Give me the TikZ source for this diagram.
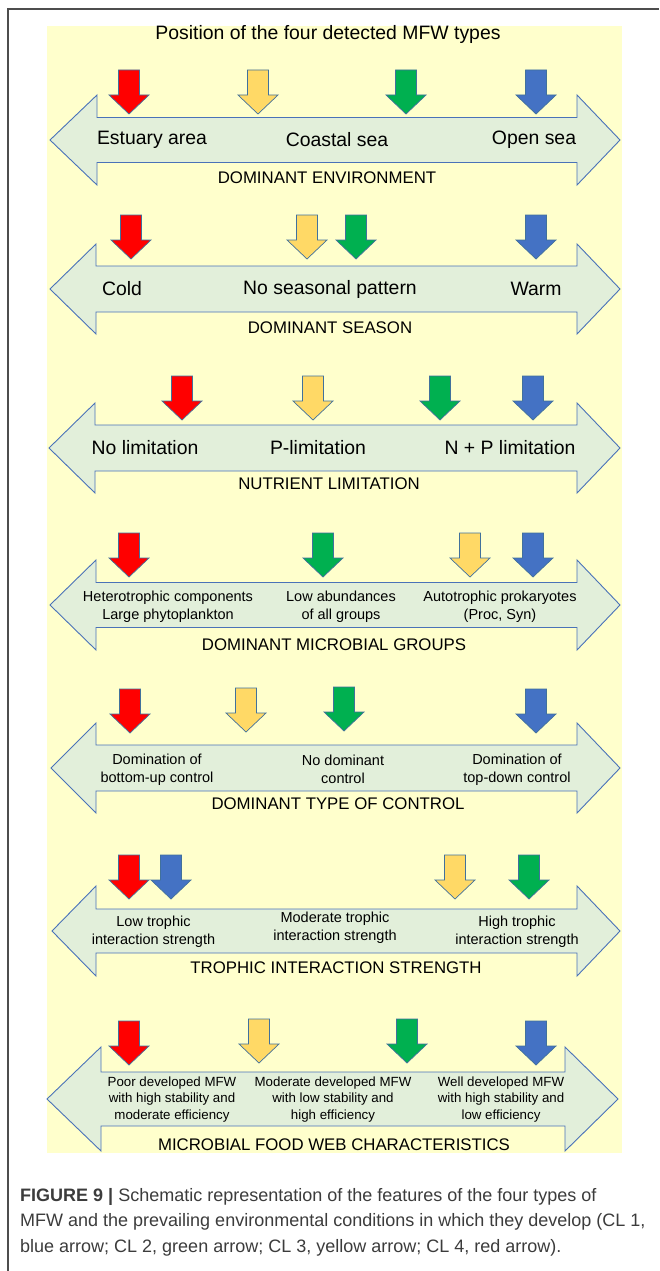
\documentclass[tikz,border=0pt]{standalone}
\usepackage{fontspec}
\setmainfont{Liberation Sans}
\usepackage{xcolor}
\definecolor{bgyellow}{HTML}{FFFFCC}
\definecolor{bandfill}{HTML}{E2EFDA}
\definecolor{bandline}{HTML}{4A72B8}
\definecolor{mfwred}{HTML}{FF0000}
\definecolor{mfwyellow}{HTML}{FFD966}
\definecolor{mfwgreen}{HTML}{00B050}
\definecolor{mfwblue}{HTML}{4472C4}
\definecolor{arrowline}{HTML}{41719C}
\definecolor{framegray}{HTML}{4D4D4D}
\definecolor{captext}{HTML}{3C3C3C}

\begin{document}
\begin{tikzpicture}[x=1pt,y=-1pt,
	bigarrow/.style={fill=bandfill,draw=bandline,line width=0.9pt},
	typearrow/.style={draw=arrowline,line width=0.7pt},
	biglabel/.style={font=\fontsize{19.4}{22}\selectfont},
	axislabel/.style={font=\fontsize{16.8}{20}\selectfont},
	midlabel/.style={font=\fontsize{14.5}{17.5}\selectfont,align=center},
	smalllabel/.style={font=\fontsize{13.3}{16.5}\selectfont,align=center},
	captionline/.style={anchor=base west,inner sep=0pt,text=captext,font=\fontsize{18}{25}\selectfont}]
	\useasboundingbox (0,0) rectangle (659,1271);
	\fill[white] (0,0) rectangle (659,1271);
	\draw[framegray, line width=1.5] (8,1271) -- (8,9) -- (659,9);
	\fill[bgyellow] (47,26) rectangle (622,1153);

	% double arrows: centre / head / shaft / left tip / backs / right tip
	\foreach \c/\h/\s/\xl/\xa/\xb/\xr in {140/45/22.5/50/97/577/620, 289/45/23/50/96/577/620, 448/45/23/49/95/577/620, 605/45/22.5/50/96/577/620, 768/45/23/51/96/577/620, 931/45/22/52/96/577/620, 1099/52/27/47/101/565/618}
		\draw[bigarrow] (\xl,\c) -- (\xa,\c-\h) -- (\xa,\c-\s) -- (\xb,\c-\s) -- (\xb,\c-\h) -- (\xr,\c) -- (\xb,\c+\h) -- (\xb,\c+\s) -- (\xa,\c+\s) -- (\xa,\c+\h) -- cycle;

	% the four MFW types
	\foreach \x/\t/\col in {129/70/mfwred, 258/70/mfwyellow, 406/70/mfwgreen, 536/70/mfwblue,
		131/215/mfwred, 307/215/mfwyellow, 356/215/mfwgreen, 536/215/mfwblue,
		182/376/mfwred, 313/376/mfwyellow, 440/376/mfwgreen, 533/376/mfwblue,
		129/533/mfwred, 323/533/mfwgreen, 470/533/mfwyellow, 533/533/mfwblue,
		130/689/mfwred, 246/688/mfwyellow, 344/687/mfwgreen, 536/689/mfwblue,
		129/855/mfwred, 171/855/mfwblue, 455/855/mfwyellow, 529/855/mfwgreen,
		129/1021/mfwred, 259/1019/mfwyellow, 407/1019/mfwgreen, 536/1021/mfwblue}
		\draw[typearrow, fill=\col] (\x-10.5,\t) -- (\x+10.5,\t) -- (\x+10.5,\t+25) -- (\x+20,\t+25) -- (\x,\t+44) -- (\x-20,\t+25) -- (\x-10.5,\t+25) -- cycle;

	\node[biglabel] (title) at (328,34) {Position of the four detected MFW types};

	\node[biglabel] (estuary) at (152,140) {Estuary area};
	\node[biglabel] (coastal) at (337,140) {Coastal sea};
	\node[biglabel] (opensea) at (534,140) {Open sea};
	\node[axislabel] (envaxis) at (327,178) {DOMINANT ENVIRONMENT};

	\node[biglabel] (cold) at (122,289) {Cold};
	\node[biglabel] (noseason) at (330,289) {No seasonal pattern};
	\node[biglabel] (warm) at (536,289) {Warm};
	\node[axislabel] (seasaxis) at (330,328) {DOMINANT SEASON};

	\node[biglabel] (nolim) at (145,448) {No limitation};
	\node[biglabel] (plim) at (318,448) {P-limitation};
	\node[biglabel] (nplim) at (510,448) {N + P limitation};
	\node[axislabel] (nutaxis) at (329,484) {NUTRIENT LIMITATION};

	\node[midlabel] (hetero) at (168,606.5) {Heterotrophic components\\Large phytoplankton};
	\node[midlabel] (lowab) at (341,606.5) {Low abundances\\of all groups};
	\node[midlabel] (autotr) at (500,606.5) {Autotrophic prokaryotes\\(Proc, Syn)};
	\node[axislabel] (grpaxis) at (334,645) {DOMINANT MICROBIAL GROUPS};

	\node[midlabel] (bottomup) at (157,769.5) {Domination of\\bottom-up control};
	\node[midlabel] (nodom) at (343,769.5) {No dominant\\control};
	\node[midlabel] (topdown) at (517,769.5) {Domination of\\top-down control};
	\node[axislabel] (ctrlaxis) at (338,804) {DOMINANT TYPE OF CONTROL};

	\node[midlabel] (lowtro) at (153.5,931.5) {Low trophic\\interaction strength};
	\node[midlabel] (modtro) at (335,927.5) {Moderate trophic\\interaction strength};
	\node[midlabel] (hightro) at (517,931.5) {High trophic\\interaction strength};
	\node[axislabel] (troaxis) at (336,968) {TROPHIC INTERACTION STRENGTH};

	\node[smalllabel] (poormfw) at (172,1099.5) {Poor developed MFW\\with high stability and\\moderate efficiency};
	\node[smalllabel] (modmfw) at (333,1099.5) {Moderate developed MFW\\with low stability and\\high efficiency};
	\node[smalllabel] (wellmfw) at (501,1099.5) {Well developed MFW\\with high stability and\\low efficiency};
	\node[axislabel] (mfwaxis) at (334,1145) {MICROBIAL FOOD WEB CHARACTERISTICS};

	\node[captionline] (capa) at (20,1201) {\textbf{FIGURE 9 |} Schematic representation of the features of the four types of};
	\node[captionline] (capb) at (20,1226) {MFW and the prevailing environmental conditions in which they develop (CL 1,};
	\node[captionline] (capc) at (20,1252) {blue arrow; CL 2, green arrow; CL 3, yellow arrow; CL 4, red arrow).};
\end{tikzpicture}
\end{document}
